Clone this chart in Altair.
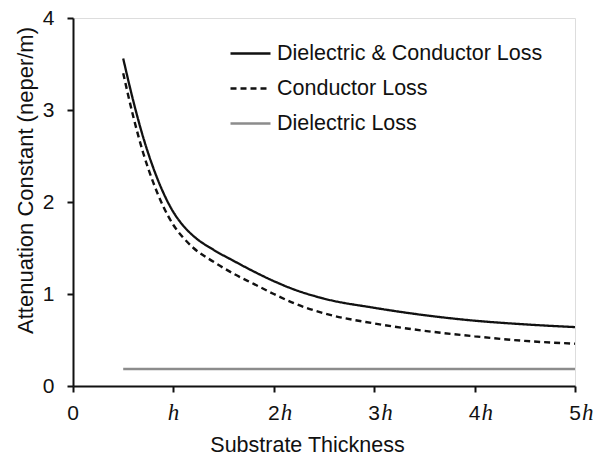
import altair as alt
import pandas as pd

# ---- data ----
x_vals = [0.5, 0.6, 0.7, 0.8, 0.9, 1.0, 1.1, 1.2, 1.4, 1.6, 1.8, 2.0, 2.2, 2.5, 3.0, 3.5, 4.0, 4.5, 5.0]
total_loss = [3.56, 3.10, 2.70, 2.37, 2.10, 1.89, 1.74, 1.63, 1.48, 1.36, 1.245, 1.14, 1.05, 0.95, 0.85, 0.77, 0.71, 0.67, 0.64]
cond_loss = [3.40, 2.93, 2.53, 2.21, 1.95, 1.75, 1.61, 1.50, 1.35, 1.22, 1.11, 1.00, 0.90, 0.79, 0.68, 0.60, 0.54, 0.49, 0.46]
diel_x = [0.5, 5.0]
diel_loss = [0.185, 0.185]

series_names = ["Dielectric & Conductor Loss", "Conductor Loss", "Dielectric Loss"]

tick_vals = [0, 1, 2, 3, 4, 5]
tick_nums = ["0", "", "2", "3", "4", "5"]
tick_h = ["", "h", "h", "h", "h", "h"]

rows = []
for x, y in zip(x_vals, total_loss):
    rows.append({"x": x, "y": y, "series": series_names[0]})
for x, y in zip(x_vals, cond_loss):
    rows.append({"x": x, "y": y, "series": series_names[1]})
for x, y in zip(diel_x, diel_loss):
    rows.append({"x": x, "y": y, "series": series_names[2]})
df = pd.DataFrame(rows)
ticks = pd.DataFrame({"t": tick_vals, "num": tick_nums, "h": tick_h})

FONT = "Liberation Sans"
INK = "#111111"

xscale = alt.Scale(domain=[0, 5], nice=False, zero=False)
yscale = alt.Scale(domain=[0, 4], nice=False)

legend_cfg = dict(title=None, orient="none", legendX=156, legendY=14,
                  symbolType="stroke", symbolSize=1600, labelLimit=0,
                  labelFont=FONT, labelFontSize=21.5, labelColor=INK,
                  labelOffset=5, rowPadding=3, padding=0)

lines = alt.Chart(df).mark_line(interpolate="monotone").encode(
    x=alt.X("x:Q", scale=xscale,
            axis=alt.Axis(values=tick_vals, labels=False, title="Substrate Thickness",
                          titleX=234, titleY=65, titleBaseline="alphabetic",
                          titleFont=FONT, titleFontSize=21.5, titleFontWeight="normal",
                          titleColor=INK, tickSize=6, tickWidth=2, domainWidth=2,
                          domainColor=INK, tickColor=INK, grid=False)),
    y=alt.Y("y:Q", scale=yscale,
            axis=alt.Axis(values=[0, 1, 2, 3, 4], format="d", title="Attenuation Constant (neper/m)",
                          titleX=-48, titleY=162, titleBaseline="middle", titleAngle=-90,
                          titleFont=FONT, titleFontSize=22, titleFontWeight="normal",
                          titleColor=INK, labelFont=FONT, labelFontSize=21, labelColor=INK,
                          labelPadding=13, tickSize=6, tickWidth=2, domainWidth=2,
                          domainColor=INK, tickColor=INK, grid=False)),
    color=alt.Color("series:N", sort=series_names,
                    scale=alt.Scale(domain=series_names, range=[INK, INK, "#8c8c8c"]),
                    legend=alt.Legend(**legend_cfg)),
    strokeDash=alt.StrokeDash("series:N", sort=series_names,
                              scale=alt.Scale(domain=series_names, range=[[1, 0], [6, 4], [1, 0]]),
                              legend=alt.Legend(**legend_cfg)),
    strokeWidth=alt.StrokeWidth("series:N", sort=series_names,
                                scale=alt.Scale(domain=series_names, range=[2.3, 2.5, 3]),
                                legend=None),
)

num_labels = alt.Chart(ticks).mark_text(
    font=FONT, fontSize=21, color=INK, align="center", baseline="alphabetic"
).encode(x=alt.X("t:Q", scale=xscale), y=alt.value(402), text="num:N")

h_single = alt.Chart(ticks).transform_filter("datum.t == 1").mark_text(
    font="Liberation Serif", fontStyle="italic", fontSize=23, color=INK,
    align="center", baseline="alphabetic"
).encode(x=alt.X("t:Q", scale=xscale), y=alt.value(402), text="h:N")

h_multi = alt.Chart(ticks).transform_filter("datum.t > 1").mark_text(
    font="Liberation Serif", fontStyle="italic", fontSize=23, color=INK,
    align="left", baseline="alphabetic", dx=7
).encode(x=alt.X("t:Q", scale=xscale), y=alt.value(402), text="h:N")

chart = alt.layer(lines, num_labels, h_single, h_multi).properties(
    width=502, height=368,
    autosize=alt.AutoSizeParams(type="none"),
    padding={"left": 73, "top": 18, "right": 20, "bottom": 69},
).configure_view(stroke=INK, strokeWidth=2).configure(background="white")

chart.save("out.html", embed_options={"renderer": "svg", "actions": False})
